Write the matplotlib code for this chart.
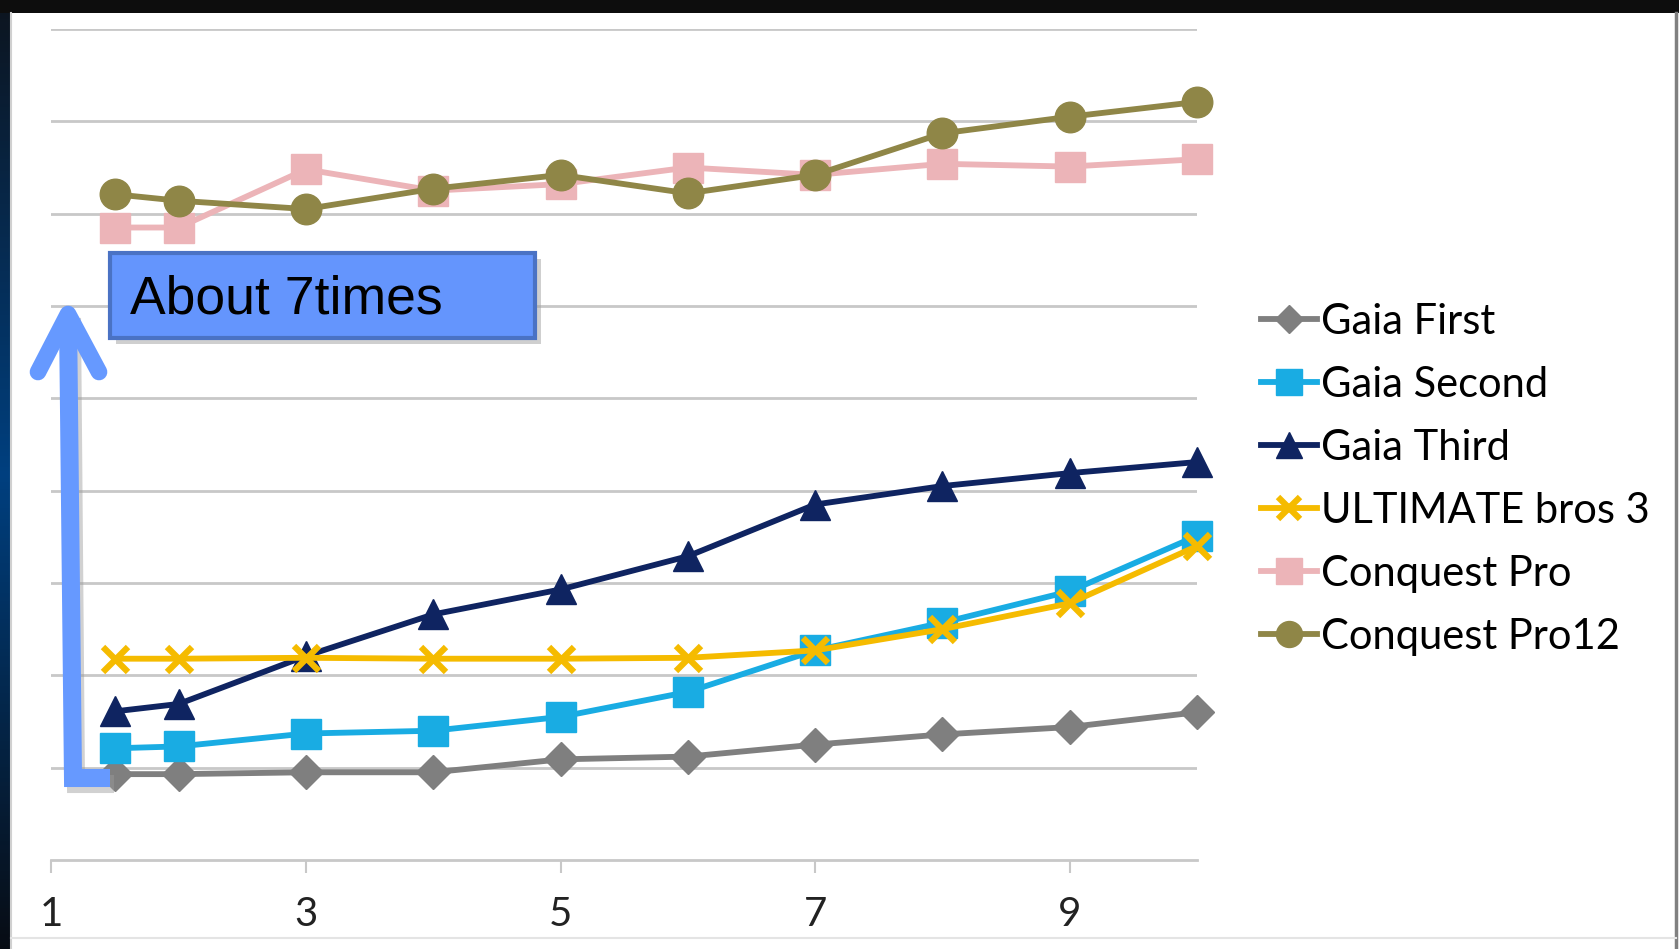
import matplotlib
matplotlib.use("Agg")
import matplotlib.pyplot as plt
from matplotlib.patches import Rectangle
from matplotlib.lines import Line2D
import numpy as np

# ---- data (in gridline units, y axis unlabeled) ----
x_vals = [1.5, 2, 3, 4, 5, 6, 7, 8, 9, 10]
gaia_first = [0.93, 0.93, 0.95, 0.95, 1.09, 1.12, 1.25, 1.36, 1.44, 1.60]
gaia_second = [1.21, 1.23, 1.37, 1.40, 1.55, 1.82, 2.27, 2.57, 2.91, 3.51]
gaia_third = [1.61, 1.69, 2.21, 2.66, 2.93, 3.29, 3.85, 4.05, 4.19, 4.31]
ultimate = [2.18, 2.18, 2.19, 2.18, 2.18, 2.19, 2.27, 2.50, 2.78, 3.40]
conquest_pro = [6.85, 6.85, 7.48, 7.25, 7.32, 7.50, 7.42, 7.54, 7.51, 7.59]
conquest_pro12 = [7.21, 7.14, 7.05, 7.27, 7.42, 7.22, 7.42, 7.87, 8.05, 8.21]
series_names = ["Gaia First", "Gaia Second", "Gaia Third",
                "ULTIMATE bros 3", "Conquest Pro", "Conquest Pro12"]
x_ticks = [1, 3, 5, 7, 9]
annotation = "About 7times"

W, H = 1679, 949
fig = plt.figure(figsize=(W / 100, H / 100), dpi=100)
fig.patch.set_facecolor("white")


def fx(px):
    return px / W


def fy(py):
    return 1 - py / H


# ---- frame ----
fig.patches.append(Rectangle((0, fy(13)), 1, 1, transform=fig.transFigure,
                             facecolor="#0d0d0d", edgecolor="none", zorder=0))
grad = np.linspace(0, 1, 256)
cols = np.zeros((256, 1, 3))
top_c = np.array([0.05, 0.08, 0.12])
mid_c = np.array([0.0, 0.25, 0.50])
bot_c = np.array([0.03, 0.05, 0.08])
for i, g in enumerate(grad):
    if g < 0.5:
        c = top_c + (mid_c - top_c) * (g / 0.5)
    else:
        c = mid_c + (bot_c - mid_c) * ((g - 0.5) / 0.5)
    cols[i, 0] = c
axg = fig.add_axes([0, 0, fx(10), 1])
axg.imshow(cols, aspect="auto", extent=[0, 1, 0, 1])
axg.set_axis_off()
fig.add_artist(Line2D([fx(11), fx(11)], [0, fy(13)], transform=fig.transFigure,
                      color="#d0d0d0", lw=1.5))
fig.add_artist(Line2D([fx(1676), fx(1676)], [0, fy(13)], transform=fig.transFigure,
                      color="#808080", lw=2.5))
fig.add_artist(Line2D([fx(11), fx(1676)], [fy(938), fy(938)], transform=fig.transFigure,
                      color="#e4e4e4", lw=1.5))

# ---- main axes ----
x0, x1 = 51.4, 1197
y0, y1 = 860, 29
ax = fig.add_axes([fx(x0), fy(y0), fx(x1) - fx(x0), fy(y1) - fy(y0)])
ax.set_xlim(1, 10)
ax.set_ylim(0, 9)
ax.set_facecolor("none")
for s in ["top", "right", "left"]:
    ax.spines[s].set_visible(False)
ax.spines["bottom"].set_color("#c8c8c8")
ax.spines["bottom"].set_linewidth(2)
ax.set_yticks(range(1, 10))
ax.yaxis.set_tick_params(length=0, labelleft=False)
ax.grid(axis="y", color="#c8c8c8", lw=2)
ax.set_axisbelow(True)
ax.set_xticks(x_ticks)
ax.set_xticklabels([str(t) for t in x_ticks], fontfamily="Lato", fontsize=29,
                   color="#222222")
ax.tick_params(axis="x", length=9, width=1.5, color="#c8c8c8", pad=17, direction="out")

lw = 4.2
h1, = ax.plot(x_vals, gaia_first, color="#7f7f7f", lw=lw, marker="D", ms=17,
              label=series_names[0], clip_on=False)
h2, = ax.plot(x_vals, gaia_second, color="#19ace3", lw=lw, marker="s", ms=22,
              label=series_names[1], clip_on=False)
h3, = ax.plot(x_vals, gaia_third, color="#0f2461", lw=lw, marker="^", ms=22,
              label=series_names[2], clip_on=False)
h4, = ax.plot(x_vals, ultimate, color="#f5bb00", lw=lw, marker="x", ms=18, mew=4.5,
              label=series_names[3], clip_on=False)
h5, = ax.plot(x_vals, conquest_pro, color="#ecb4b8", lw=lw, marker="s", ms=22,
              label=series_names[4], clip_on=False)
h6, = ax.plot(x_vals, conquest_pro12, color="#8f8647", lw=lw, marker="o", ms=22,
              label=series_names[5], clip_on=False)

leg = fig.legend(handles=[h1, h2, h3, h4, h5, h6], loc="upper left",
                 bbox_to_anchor=(fx(1261), fy(303)), frameon=False,
                 prop={"family": "Lato", "size": 30}, handlelength=1.35,
                 handletextpad=0.1, labelspacing=0.6, markerscale=0.85,
                 borderaxespad=0, borderpad=0)

# ---- arrow annotation ----
acol = "#6699ff"
shadow = "#9a9a9a"
fig.add_artist(Line2D([fx(72), fx(76), fx(114)], [fy(318), fy(784), fy(784)],
                      transform=fig.transFigure, color=shadow, lw=13, alpha=0.45,
                      solid_capstyle="butt", solid_joinstyle="miter"))
fig.add_artist(Line2D([fx(68), fx(73), fx(110)], [fy(316), fy(778), fy(778)],
                      transform=fig.transFigure, color=acol, lw=13,
                      solid_capstyle="butt", solid_joinstyle="miter"))
fig.add_artist(Line2D([fx(38), fx(68), fx(99)], [fy(372), fy(314), fy(372)],
                      transform=fig.transFigure, color=acol, lw=12,
                      solid_capstyle="round", solid_joinstyle="round"))

# box
bx0, by0, bx1, by1 = 110, 253, 535, 338
fig.patches.append(Rectangle((fx(bx0 + 6), fy(by1 + 6)), fx(bx1) - fx(bx0),
                             fy(by0) - fy(by1), transform=fig.transFigure,
                             facecolor="#a0a0a0", edgecolor="none", alpha=0.5, zorder=3))
fig.patches.append(Rectangle((fx(bx0), fy(by1)), fx(bx1) - fx(bx0),
                             fy(by0) - fy(by1), transform=fig.transFigure,
                             facecolor="#6495fd", edgecolor="#4a72c4", lw=3, zorder=4))
fig.text(fx(130), fy(300), annotation, fontfamily="Liberation Sans", fontsize=38.5,
         color="black", va="center", ha="left", zorder=5)

fig.savefig("out.png", dpi=100)
